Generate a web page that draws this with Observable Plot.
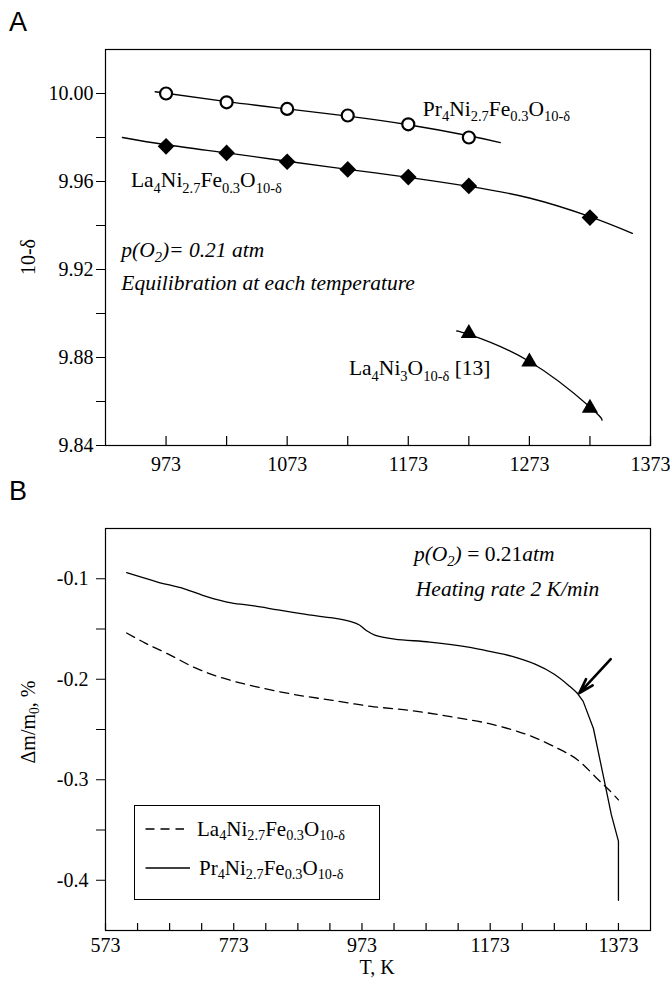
<!DOCTYPE html>
<html><head><meta charset="utf-8">
<script src="https://cdn.jsdelivr.net/npm/d3@7"></script>
<script src="https://cdn.jsdelivr.net/npm/@observablehq/plot@0.6"></script>
<style>
body{margin:0;background:#fff;}
#root{position:relative;width:670px;height:983px;overflow:hidden;background:#fff;font-family:'Liberation Serif','Times New Roman',serif;color:#000;}
#root svg{position:absolute;left:0;}
.panel{position:absolute;font-family:'Liberation Sans',Arial,sans-serif;font-size:27px;line-height:1;}
.lab{position:absolute;font-size:20px;white-space:nowrap;line-height:1;transform:translate(-50%,-50%);}
.rot{transform:translate(-50%,-50%) rotate(-90deg);}
sub{font-size:68%;vertical-align:-0.3em;line-height:0;}
.legend{position:absolute;border:1.2px solid #000;box-sizing:border-box;background:#fff;}
.legtxt{position:absolute;font-size:21px;white-space:nowrap;line-height:1;transform:translateY(-50%);}
</style>
</head><body>
<div id="root"></div>
<script>
// ---------- Panel A data ----------
const tempPr = [973, 1023, 1073, 1123, 1173, 1223];
const prEquil = [10.000, 9.996, 9.993, 9.990, 9.986, 9.980];
const tempLa = [973, 1023, 1073, 1123, 1173, 1223, 1323];
const laEquil = [9.976, 9.973, 9.969, 9.9655, 9.962, 9.958, 9.9436];
const tempRef = [1223, 1273, 1323];
const la4ni3Ref = [9.891, 9.878, 9.857];
// fitted curves
const prFitT = [964, 1023, 1073, 1123, 1173, 1223, 1249];
const prFit = [10.0008, 9.9963, 9.9930, 9.9897, 9.9858, 9.9808, 9.9777];
const laFitT = [937, 973, 1023, 1073, 1123, 1173, 1223, 1273, 1323, 1358];
const laFit = [9.9800, 9.9767, 9.9730, 9.9692, 9.9655, 9.9619, 9.9578, 9.9525, 9.9440, 9.9364];
const refFitT = [1213, 1223, 1273, 1323, 1333];
const refFit = [9.8920, 9.8905, 9.8782, 9.8575, 9.8515];
const xMajorA = [973, 1073, 1173, 1273, 1373];
const xMinorA = [1023, 1123, 1223, 1323];
const yMajorA = [9.84, 9.88, 9.92, 9.96, 10.00];
const yMinorA = [9.86, 9.90, 9.94, 9.98];

// ---------- Panel B data ----------
const tPr = [606, 653, 696, 732, 769, 805, 842, 890, 927, 957, 969, 981, 993, 1024, 1079, 1139, 1170, 1206, 1243, 1273, 1297, 1309, 1318, 1334, 1349, 1362, 1373, 1373];
const dmPr = [-0.094, -0.103, -0.110, -0.118, -0.124, -0.127, -0.131, -0.136, -0.139, -0.143, -0.146, -0.152, -0.156, -0.160, -0.163, -0.168, -0.172, -0.177, -0.185, -0.195, -0.207, -0.214, -0.222, -0.249, -0.295, -0.335, -0.361, -0.420];
const tLa = [606, 635, 671, 714, 757, 805, 866, 927, 987, 1048, 1109, 1170, 1230, 1279, 1309, 1340, 1358, 1373];
const dmLa = [-0.154, -0.164, -0.175, -0.189, -0.199, -0.207, -0.215, -0.221, -0.227, -0.231, -0.237, -0.244, -0.255, -0.269, -0.280, -0.299, -0.310, -0.320];
const kinkT = 1309; // onset of the steep drop (arrow)
const xMajorB = [573, 773, 973, 1173, 1373];
const xMinorB = [623, 673, 723, 823, 873, 923, 1023, 1073, 1123, 1223, 1273, 1323];
const yMajorB = [-0.1, -0.2, -0.3, -0.4];
const yMinorB = [-0.15, -0.25, -0.35];

// labels
const labelPr = "Pr_{4}Ni_{2.7}Fe_{0.3}O_{10-δ}";
const labelLa = "La_{4}Ni_{2.7}Fe_{0.3}O_{10-δ}";
const labelRef = "La_{4}Ni_{3}O_{10-δ} [13]";
const noteA1 = "*p(O_{2})= 0.21 atm*";
const noteA2 = "*Equilibration at each temperature*";
const noteB1 = "*p(O_{2})* = 0.21*atm*";
const noteB2 = "*Heating rate 2 K/min*";

const FONT = "'Liberation Serif','Times New Roman',serif";
const baseStyle = {fontFamily: FONT, fontSize: "20px", color: "#000", background: "transparent", overflow: "visible"};
const AF = 21.5; // annotation font size

const series = (xs, ys) => xs.map((x, i) => ({x, y: ys[i]}));

// ---------- Plot A ----------
const hA = 480, mtA = 49, mbA = 35;
const plotA = Plot.plot({
  width: 670, height: hA,
  marginLeft: 105, marginRight: 20, marginTop: mtA, marginBottom: mbA,
  x: {domain: [923, 1373]},
  y: {domain: [9.84, 10.02]},
  style: baseStyle,
  marks: [
    Plot.frame({stroke: "#000", strokeWidth: 1.2}),
    Plot.axisY({ticks: yMajorA, tickSize: 9, tickPadding: 3, tickFormat: d => d.toFixed(2), label: null}),
    Plot.axisY({ticks: yMinorA, tickSize: 9, tickFormat: () => "", label: null}),
    Plot.axisX({ticks: xMajorA, tickSize: 0, tickPadding: 11, tickFormat: d => String(d), label: null}),
    Plot.tickX(xMajorA.concat(xMinorA), {x: d => d, insetTop: (hA - mtA - mbA) - 9, stroke: "#000", strokeWidth: 1.2}),
    Plot.line(series(prFitT, prFit), {x: "x", y: "y", curve: "natural", stroke: "#000", strokeWidth: 1.3}),
    Plot.line(series(laFitT, laFit), {x: "x", y: "y", curve: "natural", stroke: "#000", strokeWidth: 1.3}),
    Plot.line(series(refFitT, refFit), {x: "x", y: "y", curve: "natural", stroke: "#000", strokeWidth: 1.3}),
    Plot.dot(series(tempPr, prEquil), {x: "x", y: "y", r: 6, stroke: "#000", strokeWidth: 2.2, fill: "#fff"}),
    Plot.dot(series(tempLa, laEquil), {x: "x", y: "y", r: 7.5, symbol: "diamond2", fill: "#000", stroke: "none"}),
    Plot.dot(series(tempRef, la4ni3Ref), {x: "x", y: "y", r: 6, symbol: "triangle", fill: "#000", stroke: "none"}),
    Plot.text([labelPr], {x: 1185, y: 9.993, text: d => d, textAnchor: "start", fontSize: AF}),
    Plot.text([labelLa], {x: 944, y: 9.9605, text: d => d, textAnchor: "start", fontSize: AF}),
    Plot.text([labelRef], {x: 1124, y: 9.875, text: d => d, textAnchor: "start", fontSize: AF}),
    Plot.text([noteA1], {x: 936, y: 9.929, text: d => d, textAnchor: "start", fontSize: AF}),
    Plot.text([noteA2], {x: 936, y: 9.9136, text: d => d, textAnchor: "start", fontSize: AF})
  ]
});

// ---------- Plot B ----------
const topB = 480, hB = 503, mtB = 48, mbB = 53;
const prSeries = series(tPr, dmPr);
const prSmooth = prSeries.filter(d => d.x <= kinkT);
const prSteep = prSeries.filter((d, i) => d.x >= kinkT);
const plotB = Plot.plot({
  width: 670, height: hB,
  marginLeft: 105, marginRight: 20, marginTop: mtB, marginBottom: mbB,
  x: {domain: [573, 1423]},
  y: {domain: [-0.45, -0.05]},
  style: baseStyle,
  marks: [
    Plot.frame({stroke: "#000", strokeWidth: 1.2}),
    Plot.axisY({ticks: yMajorB, tickSize: 9, tickPadding: 8, tickFormat: d => d.toFixed(1), label: null}),
    Plot.axisY({ticks: yMinorB, tickSize: 9, tickFormat: () => "", label: null}),
    Plot.axisX({ticks: xMajorB, tickSize: 0, tickPadding: 7, tickFormat: d => String(d), label: null}),
    Plot.tickX(xMajorB.concat(xMinorB), {x: d => d, insetTop: (hB - mtB - mbB) - 7, stroke: "#000", strokeWidth: 1.2}),
    Plot.line(series(tLa, dmLa), {x: "x", y: "y", curve: "catmull-rom", stroke: "#000", strokeWidth: 1.3, strokeDasharray: "9,6"}),
    Plot.line(prSmooth, {x: "x", y: "y", curve: "catmull-rom", stroke: "#000", strokeWidth: 1.3}),
    Plot.line(prSteep, {x: "x", y: "y", curve: "linear", stroke: "#000", strokeWidth: 1.3}),
    Plot.arrow([0], {x1: 1361, y1: -0.180, x2: 1312, y2: -0.2137, stroke: "#000", strokeWidth: 2.6, headLength: 15, headAngle: 34}),
    Plot.text([noteB1], {x: 1054, y: -0.075, text: d => d, textAnchor: "start", fontSize: AF}),
    Plot.text([noteB2], {x: 1057, y: -0.110, text: d => d, textAnchor: "start", fontSize: AF})
  ]
});

// rich text: _{..} subscript, *..* italic
function richify(svg) {
  const NS = "http://www.w3.org/2000/svg";
  svg.querySelectorAll("text").forEach(t => {
    const s = t.textContent;
    if (!/_\{|\*/.test(s)) return;
    const parts = [];
    let italic = false, buf = "", i = 0;
    const flush = () => { if (buf) parts.push({text: buf, sub: false, italic}); buf = ""; };
    while (i < s.length) {
      const c = s[i];
      if (c === "*") { flush(); italic = !italic; i++; }
      else if (c === "_" && s[i + 1] === "{") { flush(); const j = s.indexOf("}", i); parts.push({text: s.slice(i + 2, j), sub: true, italic}); i = j + 1; }
      else { buf += c; i++; }
    }
    flush();
    t.textContent = "";
    let shifted = false;
    parts.forEach(p => {
      const ts = document.createElementNS(NS, "tspan");
      ts.textContent = p.text;
      if (p.italic) ts.setAttribute("font-style", "italic");
      if (p.sub) {
        ts.setAttribute("font-size", "14.5px");
        if (!shifted) { ts.setAttribute("dy", "5.5"); shifted = true; }
      } else if (shifted) { ts.setAttribute("dy", "-5.5"); shifted = false; }
      t.appendChild(ts);
    });
  });
}
richify(plotA); richify(plotB);

const root = document.getElementById("root");
plotA.style.top = "0px";
plotB.style.top = topB + "px";
root.appendChild(plotA);
root.appendChild(plotB);

root.insertAdjacentHTML("beforeend", `
<div class="panel" style="left:9px;top:9px;">A</div>
<div class="panel" style="left:9px;top:478px;">B</div>
<div class="lab rot" style="left:28px;top:257px;">10-δ</div>
<div class="lab rot" style="left:28px;top:722px;">Δm/m<sub>0</sub>, %</div>
<div class="lab" style="left:377px;top:967px;">T, K</div>
<div class="legend" style="left:134px;top:805px;width:246px;height:95px;"></div>
<svg width="670" height="983" style="position:absolute;left:0;top:0;pointer-events:none;">
  <line x1="145.5" y1="829" x2="184" y2="829" stroke="#000" stroke-width="1.3" stroke-dasharray="9,6"/>
  <line x1="145.5" y1="868" x2="190" y2="868" stroke="#000" stroke-width="1.3"/>
</svg>
<div class="legtxt" style="left:197px;top:829px;">La<sub>4</sub>Ni<sub>2.7</sub>Fe<sub>0.3</sub>O<sub>10-δ</sub></div>
<div class="legtxt" style="left:199px;top:868px;">Pr<sub>4</sub>Ni<sub>2.7</sub>Fe<sub>0.3</sub>O<sub>10-δ</sub></div>
`);
</script>
</body></html>
